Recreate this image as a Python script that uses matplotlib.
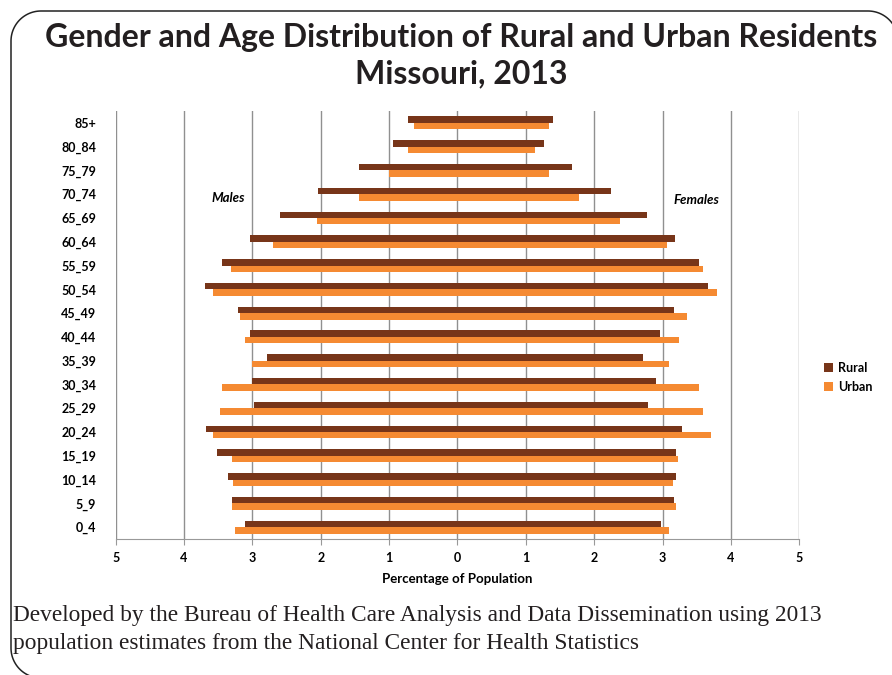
import numpy as np
import matplotlib
matplotlib.use('Agg')
import matplotlib.pyplot as plt

# age groups, bottom to top
ages = ['0_4', '5_9', '10_14', '15_19', '20_24', '25_29', '30_34', '35_39', '40_44',
        '45_49', '50_54', '55_59', '60_64', '65_69', '70_74', '75_79', '80_84', '85+']

# percentage of population (males drawn to the left)
male_rural = [3.11, 3.30, 3.35, 3.52, 3.68, 2.97, 3.00, 2.79, 3.03,
              3.21, 3.70, 3.45, 3.03, 2.59, 2.04, 1.44, 0.94, 0.72]
male_urban = [3.25, 3.30, 3.28, 3.30, 3.58, 3.48, 3.45, 3.00, 3.11,
              3.18, 3.58, 3.31, 2.70, 2.05, 1.44, 1.00, 0.72, 0.63]
female_rural = [2.98, 3.17, 3.20, 3.20, 3.29, 2.78, 2.91, 2.72, 2.96,
                3.17, 3.67, 3.54, 3.18, 2.77, 2.24, 1.68, 1.27, 1.40]
female_urban = [3.09, 3.20, 3.15, 3.22, 3.71, 3.59, 3.54, 3.09, 3.24,
                3.35, 3.80, 3.59, 3.06, 2.38, 1.78, 1.34, 1.13, 1.34]

rural_col = '#773519'
urban_col = '#F58A32'

W, H = 892, 675
fig = plt.figure(figsize=(W / 100, H / 100), dpi=100)
fig.patch.set_facecolor('white')

# rounded frame, in pixels (y down); right and bottom edges run off the image
r = 30
a = np.linspace(0, np.pi / 2, 30)
cx, cy = 11 + r, H + 3 - r
bl = (cx - r * np.sin(a), cy + r * np.cos(a))
cx, cy = 11 + r, 11 + r
tl = (cx - r * np.cos(a), cy - r * np.sin(a))
cx, cy = W + 6 - r, 11 + r
tr = (cx + r * np.sin(a), cy - r * np.cos(a))
px = np.concatenate([bl[0], tl[0], tr[0]])
py = np.concatenate([bl[1], tl[1], tr[1]])
fig.add_artist(plt.Line2D(px / W, 1 - py / H, transform=fig.transFigure,
                          color='#222222', linewidth=1.1))

ax = fig.add_axes([115.7 / W, 1 - 539 / H, (799.3 - 115.7) / W, (539 - 111) / H])

y = np.arange(len(ages))
h = 0.27
ax.barh(y + h / 2, -np.array(male_rural), height=h, color=rural_col, label='Rural', zorder=3)
ax.barh(y - h / 2, -np.array(male_urban), height=h, color=urban_col, label='Urban', zorder=3)
ax.barh(y + h / 2, female_rural, height=h, color=rural_col, zorder=3)
ax.barh(y - h / 2, female_urban, height=h, color=urban_col, zorder=3)

ax.set_xlim(-5, 5)
ax.set_ylim(-0.5, len(ages) - 0.5)
ax.set_xticks(range(-5, 6))
ax.set_xticklabels([str(abs(v)) for v in range(-5, 6)], fontsize=9,
                   fontweight='bold', family='Lato')
ax.set_yticks(y)
ax.set_yticklabels(ages, fontsize=9, fontweight='bold', family='Lato')
ax.tick_params(axis='y', length=0, pad=14)
ax.tick_params(axis='x', length=4, color='#999999', pad=5)
for v in range(-5, 6):
    ax.axvline(v, color='#909090', linewidth=1, zorder=1)
for s in ['top', 'right', 'left']:
    ax.spines[s].set_visible(False)
ax.spines['bottom'].set_color('#999999')
ax.set_xlabel('Percentage of Population', fontsize=9.5, fontweight='bold',
              family='Lato', labelpad=7)

ax.text(-3.36, 13.85, 'Males', fontsize=9.5, fontweight='bold', style='italic',
        family='Lato', ha='center', va='center')
ax.text(3.49, 13.75, 'Females', fontsize=9.5, fontweight='bold', style='italic',
        family='Lato', ha='center', va='center')

leg = ax.legend(loc='center left', bbox_to_anchor=(1.02, 0.378), frameon=False,
                prop={'family': 'Lato', 'weight': 'bold', 'size': 9},
                handlelength=0.7, handleheight=0.7, handletextpad=0.4, labelspacing=0.55)

fig.text(461 / W, 1 - 37 / H, 'Gender and Age Distribution of Rural and Urban Residents',
         fontsize=23, fontweight='bold', family='Lato', ha='center', va='center', color='#231f20')
fig.text(461 / W, 1 - 74 / H, 'Missouri, 2013',
         fontsize=23, fontweight='bold', family='Lato', ha='center', va='center', color='#231f20')

fig.text(13 / W, 1 - 615 / H,
         'Developed by the Bureau of Health Care Analysis and Data Dissemination using 2013',
         fontsize=16.85, family='Liberation Serif', ha='left', va='center', color='#231f20')
fig.text(13 / W, 1 - 644 / H,
         'population estimates from the National Center for Health Statistics',
         fontsize=16.85, family='Liberation Serif', ha='left', va='center', color='#231f20')

fig.savefig('out.png', dpi=100)
